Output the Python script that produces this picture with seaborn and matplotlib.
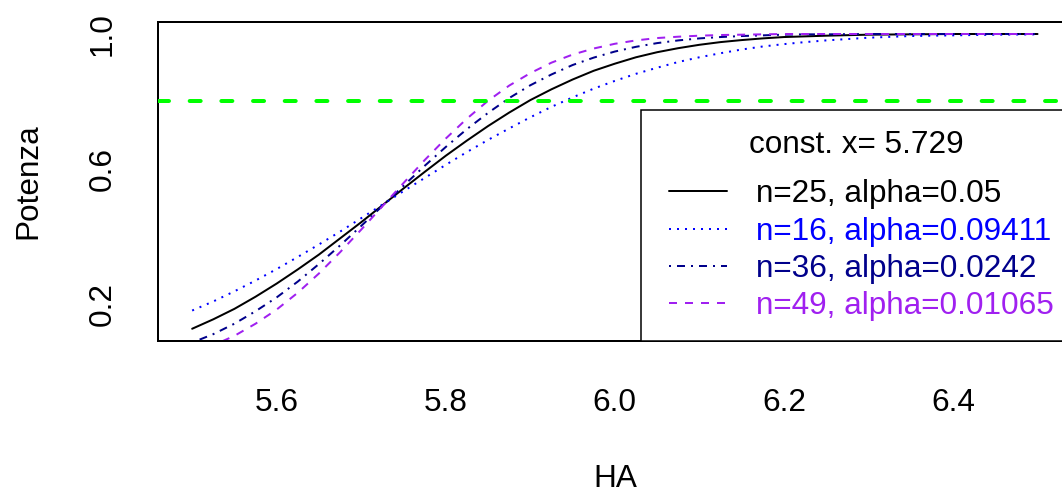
"""
Corbes de potenza per a diverses combinacions n / alpha
amb valor critic constant x = 5.729.
"""
import matplotlib
matplotlib.use("Agg")
import matplotlib.pyplot as plt
import seaborn as sns
from matplotlib.lines import Line2D
from matplotlib.legend_handler import HandlerLine2D

# =========================
# DADES (llegides del grafic)
# =========================
ha = [5.500, 5.525, 5.550, 5.575, 5.600, 5.625, 5.650, 5.675, 5.700, 5.725,
      5.750, 5.775, 5.800, 5.825, 5.850, 5.875, 5.900, 5.925, 5.950, 5.975,
      6.000, 6.025, 6.050, 6.075, 6.100, 6.125, 6.150, 6.175, 6.200, 6.225,
      6.250, 6.300, 6.350, 6.400, 6.450, 6.500]

pow_n25 = [0.126, 0.154, 0.185, 0.221, 0.260, 0.302, 0.346, 0.394, 0.442, 0.492,
           0.542, 0.591, 0.639, 0.684, 0.727, 0.767, 0.804, 0.836, 0.865, 0.891,
           0.912, 0.931, 0.946, 0.958, 0.968, 0.976, 0.982, 0.987, 0.991, 0.993,
           0.995, 0.998, 0.999, 1.000, 1.000, 1.000]
pow_n16 = [0.180, 0.207, 0.237, 0.269, 0.303, 0.339, 0.376, 0.414, 0.454, 0.494,
           0.534, 0.573, 0.612, 0.650, 0.686, 0.720, 0.753, 0.784, 0.812, 0.838,
           0.861, 0.882, 0.900, 0.917, 0.931, 0.943, 0.954, 0.963, 0.970, 0.976,
           0.981, 0.989, 0.994, 0.996, 0.998, 0.999]
pow_n36 = [0.085, 0.110, 0.141, 0.178, 0.219, 0.266, 0.318, 0.373, 0.431, 0.490,
           0.550, 0.609, 0.665, 0.718, 0.766, 0.810, 0.848, 0.880, 0.908, 0.930,
           0.948, 0.962, 0.973, 0.981, 0.987, 0.991, 0.994, 0.996, 0.998, 0.999,
           0.999, 1.000, 1.000, 1.000, 1.000, 1.000]
pow_n49 = [0.055, 0.077, 0.105, 0.141, 0.183, 0.233, 0.290, 0.353, 0.420, 0.489,
           0.558, 0.626, 0.690, 0.749, 0.802, 0.847, 0.884, 0.915, 0.939, 0.957,
           0.971, 0.981, 0.988, 0.992, 0.995, 0.997, 0.998, 0.999, 1.000, 1.000,
           1.000, 1.000, 1.000, 1.000, 1.000, 1.000]

etiquetes = ["n=25, alpha=0.05", "n=16, alpha=0.09411",
             "n=36, alpha=0.0242", "n=49, alpha=0.01065"]
titol_llegenda = "const. x= 5.729"
potenza_objectiu = 0.8

y_ticks = [0.2, 0.4, 0.6, 0.8, 1.0]
y_tick_labels = ["0.2", "", "0.6", "", "1.0"]
x_ticks = [5.6, 5.8, 6.0, 6.2, 6.4]

# =========================
# ESTIL
# =========================
FS = 22.7
sns.set_style("white")
plt.rcParams["font.family"] = ["Liberation Sans", "DejaVu Sans"]
plt.rcParams["font.size"] = FS
plt.rcParams["text.color"] = "black"
plt.rcParams["axes.labelcolor"] = "black"

lw = 1.44  # ~2 px

fig = plt.figure(figsize=(10.62, 4.88), dpi=100)
ax = fig.add_axes([0.1491, 0.3018, 0.8597, 0.6525])

series = [
    (pow_n25, "black", "-"),
    (pow_n16, "#0000FF", (0, (1, 3))),
    (pow_n36, "#00008B", (0, (1, 3, 4, 3))),
    (pow_n49, "#A020F0", (0, (4, 4))),
]

handles = []
for (vals, col, ls), lab in zip(series, etiquetes):
    sns.lineplot(x=ha, y=vals, color=col, linestyle=ls, linewidth=lw, ax=ax)
    handles.append(ax.get_lines()[-1])
    handles[-1].set_label(lab)

ax.axhline(potenza_objectiu, color="#00FF00", linewidth=2.88,
           linestyle=(0, (2.75, 5.17)), dash_capstyle="round", zorder=5)

ax.set_xlim(5.46, 6.54)
ax.set_ylim(0.0905, 1.0347)
ax.set_xticks(x_ticks)
ax.set_xticklabels([f"{v:.1f}" for v in x_ticks])
ax.set_yticks(y_ticks)
ax.set_yticklabels(y_tick_labels, rotation=90, va="center")

ax.tick_params(axis="both", direction="out", length=14.4, width=lw,
               color="black", labelsize=FS, labelcolor="black")
ax.tick_params(axis="x", pad=19.5)
ax.tick_params(axis="y", pad=14.6)

for sp in ax.spines.values():
    sp.set_visible(True)
    sp.set_color("black")
    sp.set_linewidth(lw)

ax.set_xlabel("HA", fontsize=FS, va="top", color="black")
ax.xaxis.set_label_coords(0.5, -0.3873)
ax.set_ylabel("Potenza", fontsize=FS, color="black")
ax.yaxis.set_label_coords(-0.1263, 0.5)

# =========================
# LLEGENDA
# =========================
leg = ax.legend(handles=handles, title=titol_llegenda, loc="lower left",
                bbox_to_anchor=(0.5287, 0.0, 0.4713, 0.5), mode="expand",
                borderaxespad=0, borderpad=0.62, labelspacing=0.23,
                handlelength=2.11, handletextpad=0.92, fontsize=FS,
                title_fontsize=FS, labelcolor="linecolor", fancybox=False,
                framealpha=1, edgecolor="black",
                handler_map={Line2D: HandlerLine2D(xpad=0.27)})
leg.get_frame().set_linewidth(1.1)
leg.set_zorder(6)
# separacio extra entre titol i entrades
leg._legend_box.sep = 14.0

fig.savefig("out.png", dpi=100)
